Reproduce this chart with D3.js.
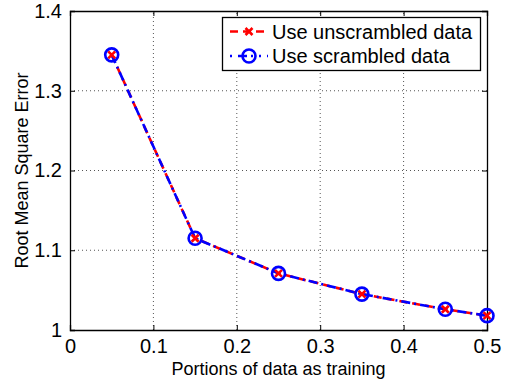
<!DOCTYPE html>
<html>
<head>
<meta charset="utf-8">
<script src="https://cdn.jsdelivr.net/npm/d3@7"></script>
<style>
  body { margin: 0; background: #fff; }
  svg { display: block; font-family: "Liberation Sans", Arial, sans-serif; }
</style>
</head>
<body>
<script>
const width = 506, height = 381
const margin = {top: 11, left: 70, bottom: 51, right: 19}

// data
const portions = [0.05, 0.15, 0.25, 0.35, 0.45, 0.5]
const rmseUnscrambled = [1.345, 1.115, 1.071, 1.045, 1.026, 1.018]
const rmseScrambled = [1.345, 1.115, 1.071, 1.045, 1.026, 1.018]
const xTicks = [0, 0.1, 0.2, 0.3, 0.4, 0.5]
const yTicks = [1, 1.1, 1.2, 1.3, 1.4]
const seriesNames = ['Use unscrambled data', 'Use scrambled data']

const x = d3.scaleLinear().domain([0, 0.5]).range([margin.left, width - margin.right])
const y = d3.scaleLinear().domain([1, 1.4]).range([height - margin.bottom, margin.top])

const svg = d3.select('body').append('svg')
  .attr('width', width)
  .attr('height', height)

// grid
svg.append('g').selectAll('line.gx')
  .data(xTicks.slice(1, -1))
  .join('line')
  .attr('x1', d => x(d)).attr('x2', d => x(d))
  .attr('y1', y(1)).attr('y2', y(1.4))
  .attr('stroke', '#555').attr('stroke-width', 1).attr('stroke-dasharray', '1,3')
svg.append('g').selectAll('line.gy')
  .data(yTicks.slice(1, -1))
  .join('line')
  .attr('x1', x(0)).attr('x2', x(0.5))
  .attr('y1', d => y(d)).attr('y2', d => y(d))
  .attr('stroke', '#555').attr('stroke-width', 1).attr('stroke-dasharray', '1,3')

// axes (inward ticks, box)
const fmt = d => d3.format('')(d)
svg.append('g')
  .attr('transform', `translate(0, ${y(1)})`)
  .call(d3.axisBottom(x).tickValues(xTicks).tickSize(-5).tickPadding(9).tickFormat(fmt))
svg.append('g')
  .attr('transform', `translate(${x(0)}, 0)`)
  .call(d3.axisLeft(y).tickValues(yTicks).tickSize(-5).tickPadding(8).tickFormat(fmt))
svg.append('g')
  .attr('transform', `translate(0, ${y(1.4)})`)
  .call(d3.axisTop(x).tickValues(xTicks).tickSize(-5).tickFormat(''))
svg.append('g')
  .attr('transform', `translate(${x(0.5)}, 0)`)
  .call(d3.axisRight(y).tickValues(yTicks).tickSize(-5).tickFormat(''))

svg.selectAll('.domain').attr('stroke', '#000').attr('stroke-width', 1.3)
svg.selectAll('.tick line').attr('stroke', '#000')
svg.selectAll('.tick text').attr('font-size', 20).attr('fill', '#000')
  .attr('font-family', '"Liberation Sans", Arial, sans-serif')

// labels
svg.append('text')
  .attr('x', (x(0) + x(0.5)) / 2).attr('y', 375)
  .attr('text-anchor', 'middle').attr('font-size', 18)
  .text('Portions of data as training')
svg.append('text')
  .attr('transform', `translate(28, ${(y(1) + y(1.4)) / 2}) rotate(-90)`)
  .attr('text-anchor', 'middle').attr('font-size', 18)
  .text('Root Mean Square Error')

// lines
const line = d3.line().x(d => x(d[0])).y(d => y(d[1]))
const dataU = portions.map((p, i) => [p, rmseUnscrambled[i]])
const dataS = portions.map((p, i) => [p, rmseScrambled[i]])

svg.append('path').datum(dataU)
  .attr('d', line).attr('fill', 'none')
  .attr('stroke', 'red').attr('stroke-width', 2.6).attr('stroke-dasharray', '8,5')
svg.append('path').datum(dataS)
  .attr('d', line).attr('fill', 'none')
  .attr('stroke', 'blue').attr('stroke-width', 2.6).attr('stroke-dasharray', '9,4,2,4')

const xMark = (g, cx, cy, s) => {
  g.append('path')
    .attr('d', `M${cx - s},${cy - s}L${cx + s},${cy + s}M${cx - s},${cy + s}L${cx + s},${cy - s}`)
    .attr('stroke', 'red').attr('stroke-width', 2.6).attr('fill', 'none')
}
const oMark = (g, cx, cy, r) => {
  g.append('circle').attr('cx', cx).attr('cy', cy).attr('r', r)
    .attr('stroke', 'blue').attr('stroke-width', 2.6).attr('fill', 'none')
}

const marks = svg.append('g')
dataU.forEach(d => xMark(marks, x(d[0]), y(d[1]), 3.5))
dataS.forEach(d => oMark(marks, x(d[0]), y(d[1]), 6.5))

// legend
const lg = svg.append('g')
lg.append('rect')
  .attr('x', 222.5).attr('y', 17.5).attr('width', 258).attr('height', 53)
  .attr('fill', '#fff').attr('stroke', '#000').attr('stroke-width', 1.3)
const rows = [31.5, 56]
lg.append('line').attr('x1', 230).attr('x2', 268).attr('y1', rows[0]).attr('y2', rows[0])
  .attr('stroke', 'red').attr('stroke-width', 2.6).attr('stroke-dasharray', '8,5')
xMark(lg, 249, rows[0], 3.5)
lg.append('line').attr('x1', 230).attr('x2', 268).attr('y1', rows[1]).attr('y2', rows[1])
  .attr('stroke', 'blue').attr('stroke-width', 2.6).attr('stroke-dasharray', '2,6,9,4,2,6')
oMark(lg, 249, rows[1], 6.5)
lg.selectAll('text.leg')
  .data(seriesNames)
  .join('text')
  .attr('x', 272).attr('y', (d, i) => rows[i] + 7)
  .attr('font-size', 20)
  .text(d => d)
</script>
</body>
</html>
